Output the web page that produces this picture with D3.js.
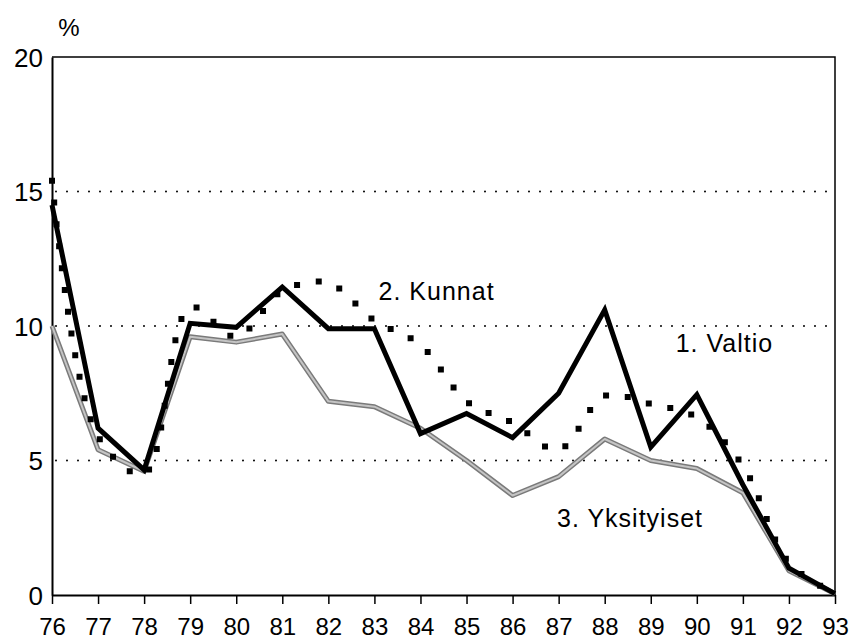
<!DOCTYPE html>
<html>
<head>
<meta charset="utf-8">
<script src="https://cdn.jsdelivr.net/npm/d3@7"></script>
<style>
  body { margin: 0; background: #fff; }
  svg text { font-family: "Liberation Sans", Arial, sans-serif; fill: #000; }
</style>
</head>
<body>
<svg id="chart"></svg>
<script>
const years = ['76','77','78','79','80','81','82','83','84','85','86','87','88','89','90','91','92','93']
const valtio = [14.5, 6.2, 4.65, 10.1, 9.95, 11.45, 9.9, 9.9, 6.0, 6.75, 5.85, 7.5, 10.6, 5.5, 7.45, 4.1, 1.0, 0.05]
const kunnat = [15.4, 5.9, 4.5, 10.7, 9.6, 11.3, 11.6, 10.2, 9.3, 7.2, 6.4, 5.4, 7.4, 7.1, 6.6, 4.8, 1.2, 0.05]
const yksityiset = [10.0, 5.4, 4.6, 9.6, 9.4, 9.7, 7.2, 7.0, 6.2, 5.0, 3.7, 4.4, 5.8, 5.0, 4.7, 3.8, 0.9, 0.05]
const yTicks = [0, 5, 10, 15, 20]
const gridValues = [5, 10, 15]
const labels = [
  { text: '2. Kunnat', year: 84.35, value: 11.3 },
  { text: '1. Valtio', year: 90.6, value: 9.35 },
  { text: '3. Yksityiset', year: 88.55, value: 2.85 }
]

const width = 853, height = 642
const margin = { top: 57, right: 18, bottom: 47, left: 52 }

const svg = d3.select('#chart')
  .attr('width', width)
  .attr('height', height)

const x = d3.scaleLinear()
  .domain([76, 93])
  .range([margin.left, width - margin.right])

const y = d3.scaleLinear()
  .domain([0, 20])
  .range([height - margin.bottom, margin.top])

// dotted grid
svg.append('g')
  .selectAll('line')
  .data(gridValues)
  .join('line')
    .attr('x1', margin.left + 4)
    .attr('x2', width - margin.right)
    .attr('y1', d => y(d))
    .attr('y2', d => y(d))
    .attr('stroke', '#000')
    .attr('stroke-width', 2)
    .attr('stroke-linecap', 'round')
    .attr('stroke-dasharray', '0 11')

// frame top/right
svg.append('path')
  .attr('d', `M${margin.left},${y(20)}H${x(93)}V${y(0)}`)
  .attr('fill', 'none')
  .attr('stroke', '#000')
  .attr('stroke-width', 1.5)

// x axis
const xAxis = d3.axisBottom(x)
  .tickValues(years.map(Number))
  .tickFormat(d => String(d))
  .tickSize(9)
  .tickSizeOuter(0)
const gx = svg.append('g')
  .attr('transform', `translate(0,${y(0)})`)
  .call(xAxis)
gx.select('.domain').attr('stroke-width', 2)
gx.selectAll('.tick line').attr('stroke-width', 1.5)
gx.selectAll('text')
  .attr('dy', 0)
  .attr('y', 40)
  .style('font-size', '24px')

// y axis
const yAxis = d3.axisLeft(y)
  .tickValues(yTicks)
  .tickSize(0)
  .tickPadding(9)
const gy = svg.append('g')
  .attr('transform', `translate(${margin.left},0)`)
  .call(yAxis)
gy.select('.domain').attr('stroke-width', 2)
gy.selectAll('text')
  .attr('dy', '0.36em')
  .style('font-size', '26px')

svg.append('text')
  .attr('x', 69)
  .attr('y', 36)
  .attr('text-anchor', 'middle')
  .style('font-size', '24px')
  .text('%')

const line = d3.line()
  .x((d, i) => x(+years[i]))
  .y(d => y(d))

// 3. Yksityiset - grey
svg.append('path')
  .datum(yksityiset)
  .attr('d', line)
  .attr('fill', 'none')
  .attr('stroke', '#7a7a7a')
  .attr('stroke-width', 5)
  .attr('stroke-linejoin', 'round')
svg.append('path')
  .datum(yksityiset)
  .attr('d', line)
  .attr('fill', 'none')
  .attr('stroke', '#c4c4c4')
  .attr('stroke-width', 2)
  .attr('stroke-linejoin', 'round')

// 2. Kunnat - dotted smooth
svg.append('path')
  .datum(kunnat)
  .attr('d', d3.line()
    .x((d, i) => x(+years[i]))
    .y(d => y(d))
    .curve(d3.curveCatmullRom.alpha(0.5)))
  .attr('fill', 'none')
  .attr('stroke', '#000')
  .attr('stroke-width', 6)
  .attr('stroke-linecap', 'square')
  .attr('stroke-dasharray', '0 22')

// 1. Valtio - thick black
svg.append('path')
  .datum(valtio)
  .attr('d', line)
  .attr('fill', 'none')
  .attr('stroke', '#000')
  .attr('stroke-width', 5)
  .attr('stroke-linejoin', 'miter')

svg.append('g')
  .selectAll('text')
  .data(labels)
  .join('text')
    .attr('x', d => x(d.year))
    .attr('y', d => y(d.value))
    .attr('text-anchor', 'middle')
    .attr('dy', '0.35em')
    .style('font-size', '25px')
    .style('letter-spacing', '1px')
    .text(d => d.text)
</script>
</body>
</html>
